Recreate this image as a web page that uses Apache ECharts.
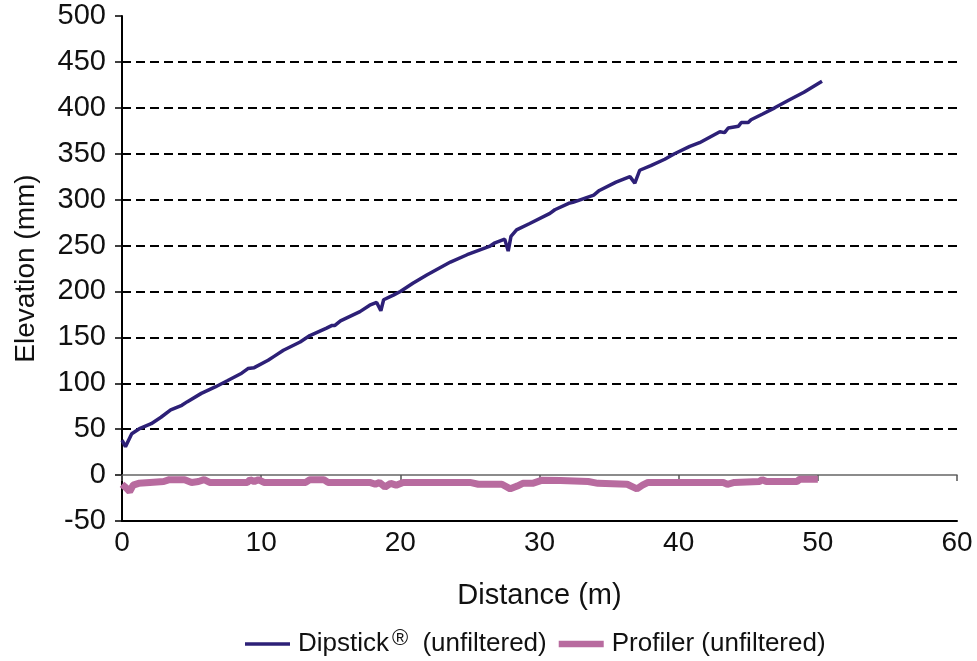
<!DOCTYPE html>
<html>
<head>
<meta charset="utf-8">
<script src="https://cdn.jsdelivr.net/npm/echarts@6/dist/echarts.min.js"></script>
<style>html,body{margin:0;padding:0;background:#fff}#c{width:977px;height:661px}</style>
</head>
<body>
<div id="c"></div>
<script>
const dipX = [0,0.25,0.7,1.3,2.1,2.8,3.5,4.3,4.7,5.7,6.7,7.6,8.6,9.05,9.5,10.5,10.9,11.6,12.8,13.5,14.7,15.1,15.3,15.7,17.1,17.8,18.3,18.6,18.8,19.5,20,20.9,21.9,23.6,24.8,26.4,26.8,27.5,27.75,27.95,28.35,29.3,30.75,31.1,32.1,32.4,33.9,34.3,35.5,36.5,36.85,37.2,38,39,39.7,40.8,41.5,42.96,43.3,43.56,44.3,44.5,45,45.2,46,46.9,48,49,50.3];
const dipY = [38,31,45,51,56,63,71,76,80,89,96,103,111,116,117,125,129,136,145,152,160,163,163,168,178,185,188,179,191,196,200,209,218,232,240,249,253,257,244,260,267,274,285,289,296,297,305,310,319,325,318,332,337,344,350,358,362,374,373,378,380,384,384,387,393,400,409,417,429];
const profX = [0,0.3,0.55,0.8,1.2,2,3,3.4,4.5,5,5.5,5.9,6.3,7,8,9,9.2,9.5,9.8,10.2,11,12,13.2,13.5,14.5,14.8,16,17,17.8,18.2,18.5,18.9,19.3,19.7,20.2,21,23,25,25.6,27.3,27.9,28.4,28.8,29.5,30.2,31.5,33.5,34.2,36.3,37,37.4,37.8,40,43.2,43.5,44,45.8,46,46.3,48.5,48.7,50];
const profY = [-10,-14,-18,-11,-9,-8,-7,-5,-5,-8,-7,-5,-8,-8,-8,-8,-5,-7,-5,-8,-8,-8,-8,-5,-5,-8,-8,-8,-8,-10,-8,-13,-9,-11,-8,-8,-8,-8,-10,-10,-15,-12,-9,-9,-5.5,-6,-7,-9,-10,-15,-11,-8,-8,-8,-10,-8,-7,-5,-7,-7,-4.5,-4.5];
const xTicks = {min: 0, max: 60, interval: 10};
const yTicks = {min: -50, max: 500, interval: 50};
const seriesNames = ['Dipstick', 'Profiler (unfiltered)'];

const zip = (a, b) => a.map((v, i) => [v, b[i]]);
const font = 'Liberation Sans, Arial, sans-serif';
const splitColors = [];
for (let v = yTicks.min; v <= yTicks.max; v += yTicks.interval) {
  splitColors.push(v === yTicks.min || v === 0 || v === yTicks.max ? 'rgba(0,0,0,0)' : '#000');
}
const dipColor = '#2d2077';
const profColor = '#b86b9f';

const chart = echarts.init(document.getElementById('c'), null, {renderer: 'canvas'});
chart.setOption({
  animation: false,
  backgroundColor: '#fff',
  textStyle: {fontFamily: font, color: '#111'},
  grid: {left: 122, right: 20, top: 16, bottom: 140, containLabel: false},
  legend: {
    left: 240, top: 623,
    itemWidth: 45, itemHeight: 14, itemGap: 12,
    symbolKeepAspect: true,
    textStyle: {
      fontFamily: font, fontSize: 26, color: '#111', padding: [0, 0, 0, 3],
      rich: {
        a: {fontFamily: font, fontSize: 26, color: '#111'},
        sup: {fontFamily: font, fontSize: 22, color: '#111', verticalAlign: 'top', padding: [0, 7, 10, 3]}
      }
    },
    formatter: function (n) {
      if (n === 'Dipstick') return '{a|Dipstick}{sup|®}{a| (unfiltered)}';
      return '{a|' + n + '}';
    },
    data: [
      {name: seriesNames[0], icon: 'path://M0,0 L45,0 L45,3.5 L0,3.5 Z', itemStyle: {color: dipColor}},
      {name: seriesNames[1], icon: 'path://M0,0 L45,0 L45,6.5 L0,6.5 Z', itemStyle: {color: profColor}}
    ]
  },
  xAxis: [{
    type: 'value', min: xTicks.min, max: xTicks.max, interval: xTicks.interval,
    position: 'bottom',
    axisLine: {onZero: false, lineStyle: {color: '#000', width: 2}},
    axisTick: {show: false},
    axisLabel: {fontFamily: font, fontSize: 28, color: '#111', margin: 8},
    splitLine: {show: false},
    name: 'Distance (m)', nameLocation: 'middle', nameGap: 60,
    nameTextStyle: {fontFamily: font, fontSize: 29, color: '#111'}
  }, {
    type: 'value', min: xTicks.min, max: xTicks.max, interval: xTicks.interval,
    position: 'bottom',
    axisLine: {onZero: true, lineStyle: {color: '#666', width: 1.5}},
    axisTick: {show: true, length: 6, lineStyle: {color: '#555', width: 1.5}},
    axisLabel: {show: false},
    splitLine: {show: false}
  }],
  yAxis: {
    type: 'value', min: yTicks.min, max: yTicks.max, interval: yTicks.interval,
    axisLine: {show: true, lineStyle: {color: '#000', width: 2}},
    axisTick: {show: true, length: 7, lineStyle: {color: '#000', width: 1.5}},
    axisLabel: {fontFamily: font, fontSize: 29, color: '#111', margin: 16},
    splitLine: {show: true, lineStyle: {color: splitColors, width: 2, type: [9, 5]}},
    name: 'Elevation (mm)', nameLocation: 'middle', nameGap: 82,
    nameTextStyle: {fontFamily: font, fontSize: 28, color: '#111'}
  },
  series: [{
    name: seriesNames[0], type: 'line', xAxisIndex: 0, symbol: 'none',
    data: zip(dipX, dipY),
    lineStyle: {color: dipColor, width: 3.5},
    itemStyle: {color: dipColor},
    z: 3
  }, {
    name: seriesNames[1], type: 'line', xAxisIndex: 0, symbol: 'none',
    data: zip(profX, profY),
    lineStyle: {color: profColor, width: 7},
    itemStyle: {color: profColor},
    z: 2
  }]
});
</script>
</body>
</html>
